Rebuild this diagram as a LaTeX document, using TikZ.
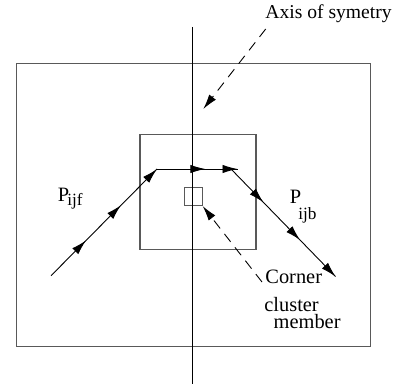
\documentclass[tikz,border=0pt]{standalone}
\usepackage{fontspec}
\setmainfont{Liberation Serif}
\usetikzlibrary{arrows.meta,decorations.markings}
\tikzset{
  frame/.style={draw=black!65, line width=0.6pt},
  flow/.style={draw=black, line width=0.45pt},
  mk/.style={postaction={decorate,decoration={markings,mark=at position #1 with {\arrow{Latex[length=7.5pt,width=4.2pt]}}}}},
  pointer/.style={draw=black, line width=0.45pt, dash pattern=on 5pt off 3.5pt, -{Latex[length=7.5pt,width=4.2pt]}},
  lbl/.style={inner sep=0pt, anchor=base west, font=\fontsize{10.2}{12}\selectfont},
  sublbl/.style={inner sep=0pt, anchor=base west, font=\fontsize{8.6}{10}\selectfont}
}
\begin{document}
\begin{tikzpicture}[x=0.5pt,y=-0.5pt]
\useasboundingbox (0,0) rectangle (406,384);
% frames
\node[frame, minimum width=177pt, minimum height=141.5pt, inner sep=0pt, anchor=north west] (outer) at (16,63) {};
\node[frame, minimum width=58pt, minimum height=57.3pt, inner sep=0pt, anchor=north west] (inner) at (139.3,134) {};
\node[frame, line width=0.5pt, minimum width=9pt, minimum height=9.2pt, inner sep=0pt, anchor=north west] (sq) at (183.7,186.7) {};
% axis
\coordinate (axtop) at (192.7,27);
\coordinate (axbot) at (192.7,384);
\draw[draw=black, line width=0.5pt] (axtop) -- (axbot);
% path
\coordinate (s) at (51,275.7);
\coordinate (c1) at (157,169);
\coordinate (c2) at (231,169);
\coordinate (c2tip) at (237.5,169);
\coordinate (e) at (335.5,276.5);
\path[flow, mk=0.33, mk=0.66, mk=1] (s) -- (c1);
\path[flow, mk=0.6, mk=1] (c1) -- (c2tip);
\path[flow, mk=0.31, mk=0.66, mk=1] (c2) -- (e);
% labels
\node[lbl, font=\fontsize{9.8}{12}\selectfont] (axis) at (265,18.5) {Axis of symetry};
\node[lbl] (pf) at (57.5,201.7) {P};
\node[sublbl] (pfs) at (67,206) {ijf};
\node[lbl] (pb) at (289.5,204) {P};
\node[sublbl] (pbs) at (298,220) {ijb};
\node[lbl] (corner) at (265,284) {Corner};
\node[lbl, align=left, font=\fontsize{10.2}{8.3}\selectfont] (cluster) at (264,328.3) {cluster\\\hspace*{4.65pt}member};
% pointers
\coordinate (axfrom) at (265.7,29);
\coordinate (axto) at (203.3,109);
\coordinate (cfrom) at (262,282);
\draw[pointer] (axfrom) -- (axto);
\draw[pointer] (cfrom) -- (sq.south east);
\end{tikzpicture}
\end{document}
